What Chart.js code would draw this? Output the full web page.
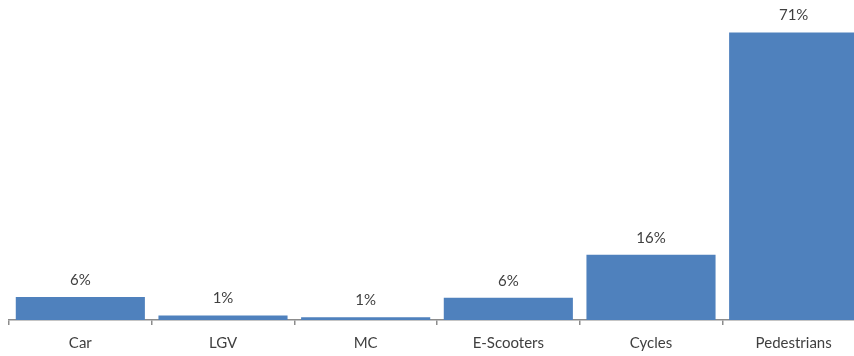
<!DOCTYPE html>
<html>
<head>
<meta charset="utf-8">
<script src="https://cdn.jsdelivr.net/npm/chart.js@4/dist/chart.umd.min.js"></script>
<style>
    html, body { margin: 0; padding: 0; background: #fff; overflow: hidden; }
    #wrap { width: 866px; height: 361px; position: relative; }
</style>
</head>
<body>
<div id="wrap"><canvas id="grafico"></canvas></div>
<script>
// Datos
const categorias = ['Car', 'LGV', 'MC', 'E-Scooters', 'Cycles', 'Pedestrians'];
const porcentajes = [5.7, 1.1, 0.7, 5.5, 16.1, 71];
const etiquetas = ['6%', '1%', '1%', '6%', '16%', '71%'];

// Plugin sencillo para escribir el valor encima de cada barra
const etiquetasBarras = {
    id: 'etiquetasBarras',
    afterDatasetsDraw(chart) {
        const ctx = chart.ctx;
        const meta = chart.getDatasetMeta(0);
        ctx.save();
        ctx.font = '15px Lato';
        ctx.fillStyle = '#404040';
        ctx.textAlign = 'center';
        ctx.textBaseline = 'middle';
        meta.data.forEach((bar, i) => {
            ctx.fillText(etiquetas[i], bar.x, bar.y - 17);
        });
        ctx.restore();
    }
};

new Chart(document.getElementById('grafico').getContext('2d'), {
    type: 'bar',
    data: {
        labels: categorias,
        datasets: [{
            data: porcentajes,
            backgroundColor: '#4F81BD',
            borderWidth: 0,
            barPercentage: 0.905,
            categoryPercentage: 1
        }]
    },
    options: {
        responsive: true,
        maintainAspectRatio: false,
        animation: false,
        layout: { padding: { left: 9, right: 1, top: 0, bottom: 0 } },
        plugins: { legend: { display: false }, tooltip: { enabled: false } },
        scales: {
            x: {
                grid: {
                    drawOnChartArea: false,
                    tickLength: 5,
                    color: '#8c8c8c',
                    lineWidth: 1.5
                },
                border: { color: '#8c8c8c', width: 1.5 },
                ticks: {
                    color: '#404040',
                    font: { family: 'Lato', size: 15 },
                    padding: 9,
                    maxRotation: 0
                }
            },
            y: {
                display: false,
                min: 0,
                max: 79
            }
        }
    },
    plugins: [etiquetasBarras]
});
</script>
</body>
</html>
